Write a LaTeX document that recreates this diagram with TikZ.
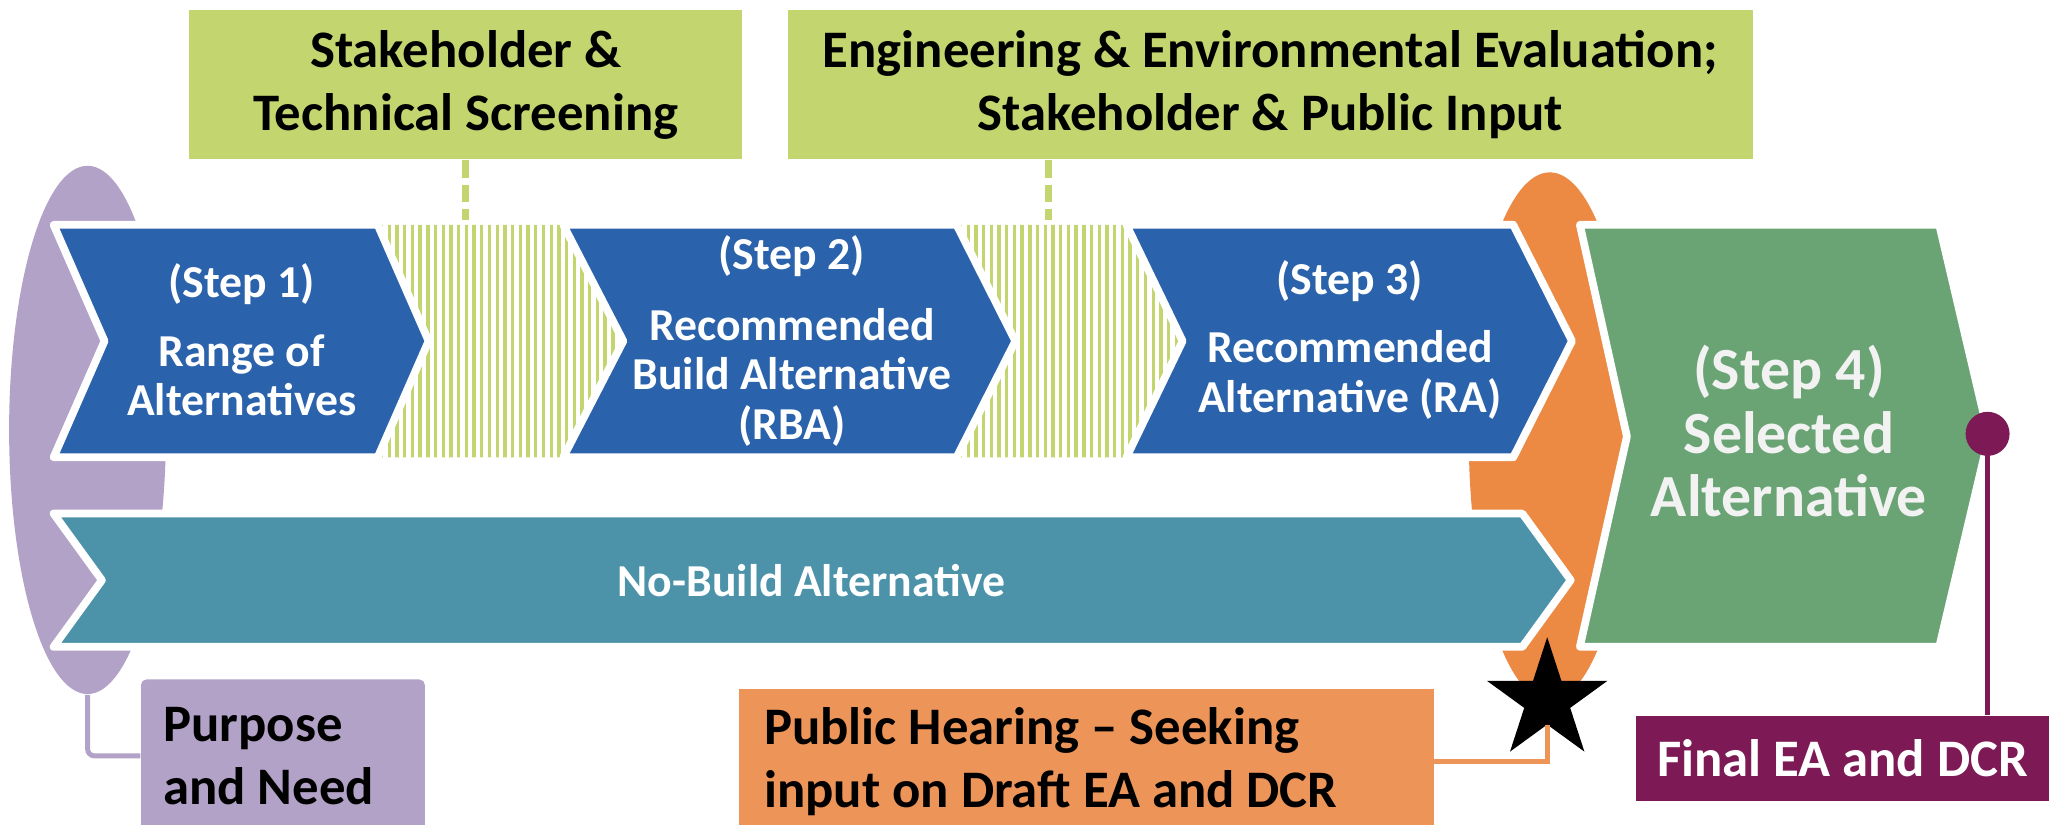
\documentclass[tikz,border=0pt]{standalone}
\usepackage{fontspec}
\setmainfont{Carlito}
\usetikzlibrary{shapes.geometric}
\definecolor{cblue}{HTML}{2A62AB}
\definecolor{cteal}{HTML}{4C93AA}
\definecolor{cgreen}{HTML}{6AA474}
\definecolor{corange}{HTML}{EC8942}
\definecolor{corangebox}{HTML}{ED9558}
\definecolor{cpurple}{HTML}{B2A2C7}
\definecolor{clime}{HTML}{C3D56E}
\definecolor{cmag}{HTML}{7D1A55}
\definecolor{clight}{HTML}{F2F2F2}
\begin{document}
\begin{tikzpicture}[x=0.013068cm,y=-0.013068cm,
  chev/.style={draw=white, line width=2.2pt, line join=round},
  hatchln/.style={clime, line width=0.95pt},
  steptxt/.style={text=white, font=\fontsize{13}{14.1}\selectfont\bfseries, align=center},
  lbl/.style={font=\fontsize{15}{18}\selectfont\bfseries, inner sep=0pt},
  dashln/.style={clime, line width=2pt, dash pattern=on 5pt off 2pt},
  conn/.style={line width=1.4pt}]
\useasboundingbox (0,0) rectangle (1568,631);

% background ellipses
\node[ellipse, fill=cpurple, minimum width=1.568cm, minimum height=5.28cm, inner sep=0pt] (pe) at (67,329) {};
\node[ellipse, fill=corange, minimum width=1.62cm, minimum height=5.28cm, inner sep=0pt] (oe) at (1186,334) {};

% hatched transitions
\begin{scope}
\clip (289,172) -- (440,172) -- (486,261) -- (440,350) -- (289,350) -- cycle;
\foreach \i in {0,...,34} \draw[hatchln] ({292+\i*5.9},170) -- ++(0,182);
\end{scope}
\begin{scope}
\clip (732,172) -- (870,172) -- (912,261) -- (870,350) -- (732,350) -- cycle;
\foreach \i in {0,...,31} \draw[hatchln] ({735+\i*5.9},170) -- ++(0,182);
\end{scope}

% chevrons
\path[chev, fill=cblue] (41,172) -- (289,172) -- (328,261) -- (289,350) -- (41,350) -- (80,261) -- cycle;
\path[chev, fill=cblue] (431,172) -- (732,172) -- (777,261) -- (732,350) -- (431,350) -- (477,261) -- cycle;
\path[chev, fill=cblue] (862,172) -- (1158,172) -- (1203,261) -- (1158,350) -- (862,350) -- (905,261) -- cycle;
\path[chev, fill=cteal] (41,393) -- (1165,393) -- (1202,444) -- (1165,495) -- (41,495) -- (78,444) -- cycle;
\path[chev, fill=cgreen] (1209,172) -- (1484,172) -- (1522,334) -- (1484,495) -- (1209,495) -- (1245,334) -- cycle;

% chevron texts
\node[steptxt] (s1) at (185,260) {(Step 1)\\[5.5pt]Range of\\Alternatives};
\node[steptxt] (s2) at (606,261) {(Step 2)\\[6pt]Recommended\\Build Alternative\\(RBA)};
\node[steptxt] (s3) at (1033,260) {(Step 3)\\[5.5pt]Recommended\\Alternative (RA)};
\node[text=clight, font=\fontsize{17}{18}\selectfont\bfseries, align=center] (s4) at (1369,330) {(Step 4)\\Selected\\Alternative};
\node[text=white, font=\fontsize{13}{14}\selectfont\bfseries] (nb) at (621,444) {No-Build Alternative};

% top boxes
\node[lbl, fill=clime, minimum width=5.528cm, minimum height=1.49cm, align=center] (g1) at (356.5,65) {Stakeholder \&\\Technical Screening};
\node[lbl, fill=clime, minimum width=9.644cm, minimum height=1.49cm, align=center] (g2) at (972,65) {Engineering \& Environmental Evaluation;\\Stakeholder \& Public Input};
\coordinate (d1) at (356.5,168);
\coordinate (d2) at (802,168);
\draw[dashln] (g1.south) -- (d1);
\draw[dashln] (d2 |- g2.south) -- (d2);

% bottom boxes
\node[lbl, fill=cpurple, minimum width=2.836cm, minimum height=1.529cm, text width=2.391cm, align=flush left, rounded corners=1.5pt] (pn) at (216.5,578.5) {Purpose\\and Need};
\node[lbl, fill=corangebox, minimum width=6.939cm, minimum height=1.464cm, text width=6.443cm, align=flush left] (ph) at (831.5,583) {Public Hearing \textendash{} Seeking\\input on Draft EA and DCR};
\node[lbl, fill=cmag, text=white, minimum width=4.129cm, minimum height=0.849cm] (fin) at (1410,580.5) {Final EA and DCR};

% connectors and markers
\draw[cpurple, conn, rounded corners=2pt] (pe.south) |- (pn.west);
\node[star, star points=5, star point ratio=2.618, fill=black, inner sep=0pt, minimum size=1.265cm] (hs) at (1184,536) {};
\draw[corangebox, conn] (ph.east) -| (hs.south);
\node[circle, fill=cmag, minimum size=0.44cm, inner sep=0pt] (dot) at (1521,332) {};
\draw[cmag, line width=1.5pt] (dot.center) -- (dot.center |- fin.north);
\end{tikzpicture}
\end{document}
